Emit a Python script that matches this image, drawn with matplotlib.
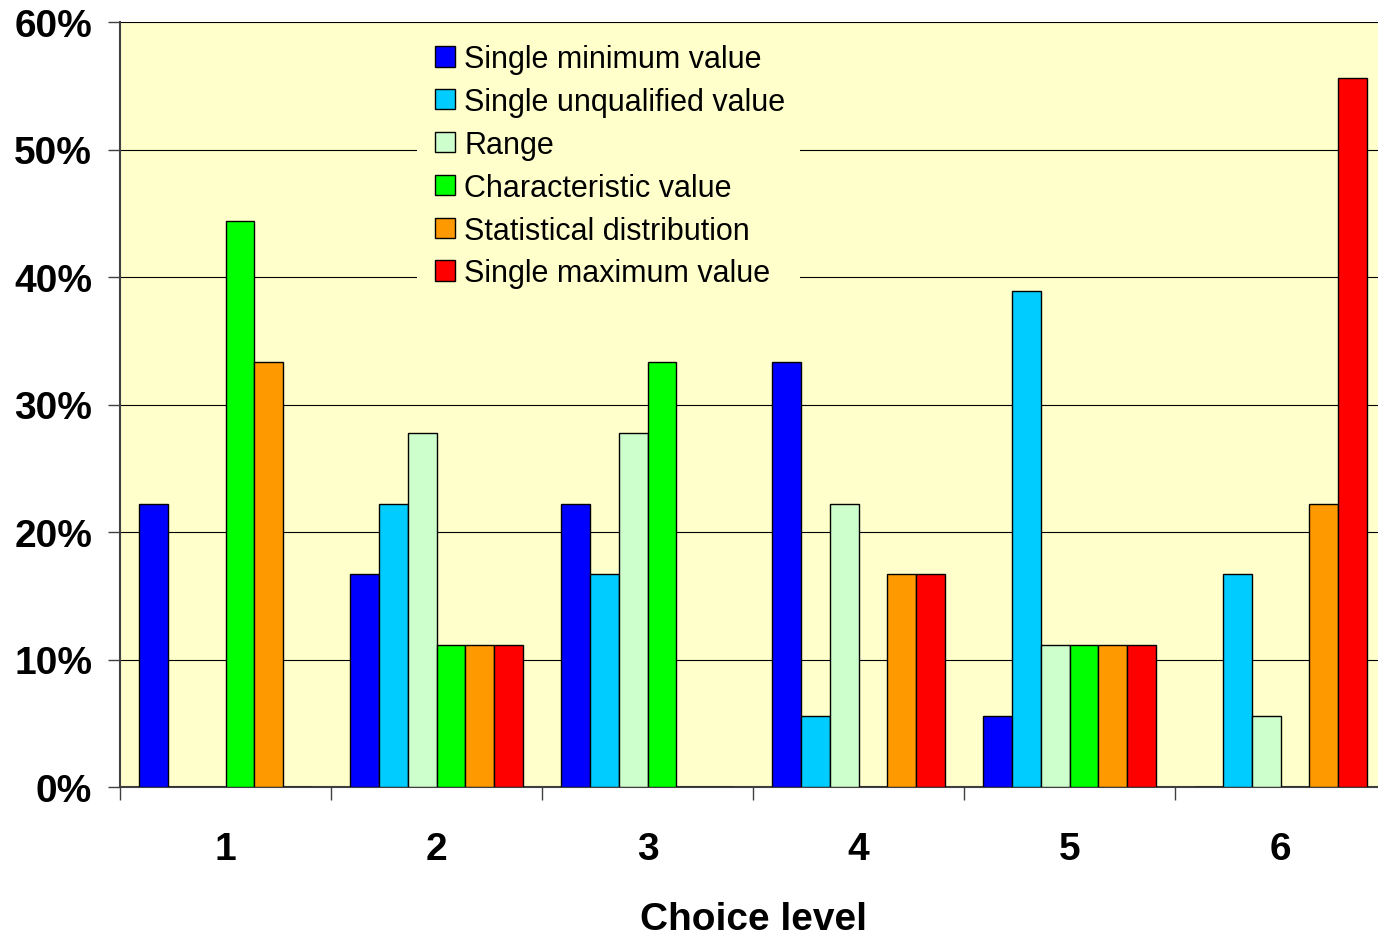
import numpy as np
import matplotlib.pyplot as plt
from matplotlib.patches import Rectangle
from matplotlib.ticker import FixedLocator, PercentFormatter

plt.rcParams['font.family'] = ['Liberation Sans', 'DejaVu Sans']

# Share of answers per choice level (fractions of 18 respondents)
levels = ['1', '2', '3', '4', '5', '6']
single_min = [22.2, 16.7, 22.2, 33.3, 5.6, 0]
single_unqual = [0, 22.2, 16.7, 5.6, 38.9, 16.7]
range_vals = [0, 27.8, 27.8, 22.2, 11.1, 5.6]
characteristic = [44.4, 11.1, 33.3, 0, 11.1, 0]
statistical = [33.3, 11.1, 0, 16.7, 11.1, 22.2]
single_max = [0, 11.1, 0, 16.7, 11.1, 55.6]

series = [
    ('Single minimum value', single_min, '#0000FF'),
    ('Single unqualified value', single_unqual, '#00CCFF'),
    ('Range', range_vals, '#CCFFCC'),
    ('Characteristic value', characteristic, '#00FF00'),
    ('Statistical distribution', statistical, '#FF9900'),
    ('Single maximum value', single_max, '#FF0000'),
]

W, H = 1378, 937
fig = plt.figure(figsize=(W / 100, H / 100), dpi=100)
# plot area runs a little past the right edge, like the original
ax = fig.add_axes([120 / W, 1 - 788 / H, 1266 / W, (788 - 23) / H])
ax.set_facecolor('#FFFFCC')

x = np.arange(1, len(levels) + 1)
w = 0.136
for i, (name, vals, col) in enumerate(series):
    ax.bar(x + (i - 2.5) * w, vals, w, color=col, edgecolor='black',
           linewidth=1.0, label=name, zorder=3)

ax.set_xlim(0.5, 6.5)
ax.set_ylim(0, 60)
ax.set_yticks(np.arange(0, 61, 10))
ax.yaxis.set_major_formatter(PercentFormatter(decimals=0))
ax.grid(axis='y', color='black', linewidth=0.8, zorder=1)

# ticks at group boundaries, labels at group centres
ax.xaxis.set_major_locator(FixedLocator(np.arange(0.5, 6.6, 1)))
ax.xaxis.set_minor_locator(FixedLocator(x))
ax.set_xticklabels([''] * 7)
ax.set_xticklabels(levels, minor=True)
ax.tick_params(axis='x', which='major', direction='out', length=9, width=1, color='#404040')
ax.tick_params(axis='x', which='minor', length=0, pad=32, labelsize=28)
ax.tick_params(axis='y', direction='out', length=9, width=1, color='#404040',
               pad=11, labelsize=28)
for lab in ax.get_xticklabels(minor=True) + ax.get_yticklabels():
    lab.set_fontweight('bold')

ax.set_xlabel('Choice level', fontsize=28, fontweight='bold', labelpad=24)

for s in ['top', 'right']:
    ax.spines[s].set_visible(False)
for s in ['left', 'bottom']:
    ax.spines[s].set_color('#404040')
    ax.spines[s].set_linewidth(1.5)

# legend background hides the gridlines behind it
bg = Rectangle((417 / W, 1 - 292 / H), 383 / W, 255 / H, transform=fig.transFigure,
               facecolor='#FFFFCC', edgecolor='none', zorder=2)
ax.add_patch(bg)
ax.legend(loc='upper left', bbox_to_anchor=(426 / W, 1 - 36 / H),
          bbox_transform=fig.transFigure, fontsize=22, frameon=False,
          handlelength=0.65, handleheight=0.65, handletextpad=0.3,
          labelspacing=0.42, borderpad=0.3, borderaxespad=0)

fig.savefig('out.png', dpi=100)
